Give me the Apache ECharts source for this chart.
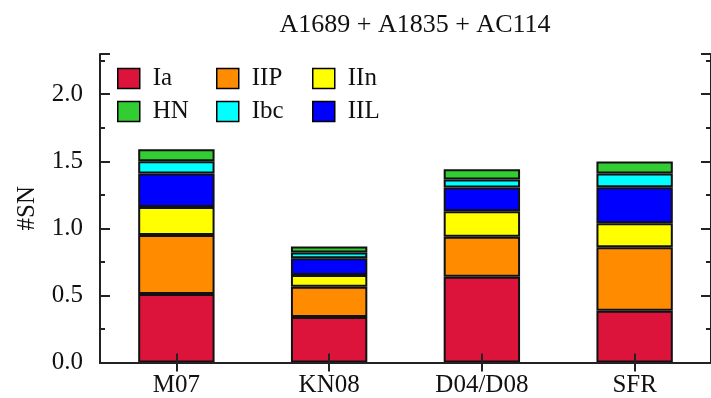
<!DOCTYPE html>
<html>
<head>
<meta charset="utf-8">
<script src="https://cdn.jsdelivr.net/npm/echarts@6/dist/echarts.min.js"></script>
<style>
  html, body { margin: 0; padding: 0; background: #fff; }
  #chart { width: 711px; height: 398px; }
</style>
</head>
<body>
<div id="chart"></div>
<script>
// Supernova rates per survey model, split by type
const categories = ['M07', 'KN08', 'D04/D08', 'SFR'];
const seriesNames = ['Ia', 'IIP', 'IIn', 'IIL', 'Ibc', 'HN'];
const valuesIa  = [0.51, 0.34, 0.64, 0.385];
const valuesIIP = [0.44, 0.225, 0.297, 0.475];
const valuesIIn = [0.21, 0.087, 0.19, 0.178];
const valuesIIL = [0.25, 0.126, 0.178, 0.269];
const valuesIbc = [0.09, 0.042, 0.059, 0.102];
const valuesHN  = [0.09, 0.045, 0.077, 0.089];
const yTicks = [0, 0.5, 1.0, 1.5, 2.0];

const seriesValues = [valuesIa, valuesIIP, valuesIIn, valuesIIL, valuesIbc, valuesHN];
const colors = {
  Ia: '#DC143C', IIP: '#FF8C00', IIn: '#FFFF00',
  IIL: '#0000FF', Ibc: '#00FFFF', HN: '#32CD32'
};

const font = 'Liberation Serif';
const textColor = '#111';
const fontSize = 25;

const chart = echarts.init(document.getElementById('chart'), null, { renderer: 'canvas' });

// legend laid out as three columns of two entries
const legendCols = [['Ia', 'HN'], ['IIP', 'Ibc'], ['IIn', 'IIL']];
const legendLefts = [117, 216, 312];

const option = {
  animation: false,
  backgroundColor: '#fff',
  title: {
    text: 'A1689 + A1835 + AC114',
    left: 410,
    top: 7,
    textAlign: 'center',
    textStyle: { fontFamily: font, fontSize: 26, fontWeight: 'normal', color: textColor }
  },
  legend: legendCols.map((col, i) => ({
    data: col,
    orient: 'vertical',
    left: legendLefts[i],
    top: 66,
    icon: 'rect',
    itemWidth: 22,
    itemHeight: 20,
    itemGap: 8,
    padding: 0,
    selectedMode: false,
    itemStyle: { borderColor: '#000', borderWidth: 1.5 },
    textStyle: { fontFamily: font, fontSize: fontSize, color: textColor, padding: [0, 0, 0, 8] }
  })),
  grid: { left: 100, right: -8, top: 54, bottom: 35.5, containLabel: false },
  xAxis: [
    {
      type: 'category',
      data: categories,
      position: 'bottom',
      z: 5,
      axisLine: { lineStyle: { color: '#222', width: 2 } },
      axisTick: { show: true, alignWithLabel: true, inside: true, length: 9, lineStyle: { color: '#222', width: 2 } },
      axisLabel: { fontFamily: font, fontSize: fontSize, color: textColor, margin: 10 },
      splitLine: { show: false }
    },
    {
      type: 'category',
      data: categories,
      position: 'top',
      z: 5,
      axisLine: { lineStyle: { color: '#222', width: 2 } },
      axisTick: { show: true, alignWithLabel: true, inside: true, length: 9, lineStyle: { color: '#222', width: 2 } },
      axisLabel: { show: false },
      splitLine: { show: false }
    }
  ],
  yAxis: [
    {
      type: 'value',
      min: 0,
      max: 2.3,
      interval: 0.5,
      position: 'left',
      z: 5,
      name: '#SN',
      nameLocation: 'middle',
      nameGap: 60,
      nameTextStyle: { fontFamily: font, fontSize: fontSize, color: textColor },
      axisLine: { show: true, lineStyle: { color: '#222', width: 2 } },
      axisTick: { show: true, inside: true, length: 10, lineStyle: { color: '#222', width: 2 } },
      minorTick: { show: true, splitNumber: 2, length: 5, lineStyle: { color: '#222', width: 2 } },
      axisLabel: {
        fontFamily: font, fontSize: fontSize, color: textColor, margin: 17,
        formatter: v => (yTicks.some(t => Math.abs(t - v) < 1e-9) ? v.toFixed(1) : '')
      },
      splitLine: { show: false }
    },
    {
      type: 'value',
      min: 0,
      max: 2.3,
      interval: 0.5,
      position: 'right',
      z: 5,
      axisLine: { show: true, lineStyle: { color: '#222', width: 2 } },
      axisTick: { show: true, inside: true, length: 10, lineStyle: { color: '#222', width: 2 } },
      minorTick: { show: true, splitNumber: 2, length: 5, lineStyle: { color: '#222', width: 2 } },
      axisLabel: { show: false },
      splitLine: { show: false }
    }
  ],
  series: seriesNames.map((name, i) => ({
    name: name,
    type: 'bar',
    stack: 'sn',
    barWidth: '50%',
    data: seriesValues[i],
    itemStyle: { color: colors[name], borderColor: '#111', borderWidth: 2 }
  }))
};

chart.setOption(option);
</script>
</body>
</html>
